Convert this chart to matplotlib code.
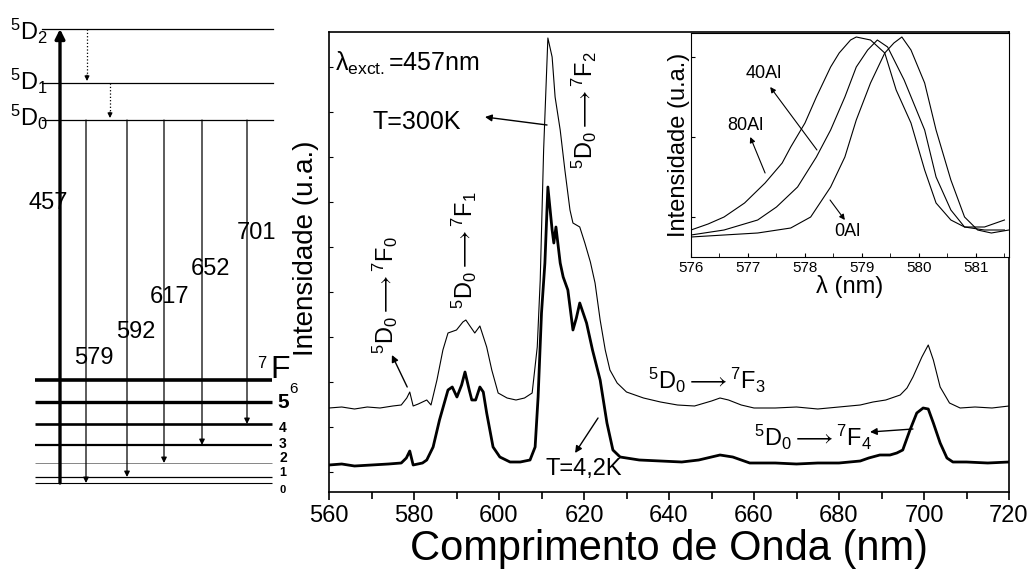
import matplotlib
matplotlib.use('Agg')
import matplotlib.pyplot as plt
from matplotlib.ticker import MultipleLocator

plt.rcParams['font.family'] = ['Liberation Sans', 'DejaVu Sans']
plt.rcParams['mathtext.fontset'] = 'custom'
plt.rcParams['mathtext.rm'] = 'Liberation Sans'
plt.rcParams['mathtext.it'] = 'Liberation Sans:italic'
plt.rcParams['mathtext.bf'] = 'Liberation Sans:bold'

# ---------------- data: emission spectra (main panel) ----------------
wl_300K = [560, 563, 566, 569, 572, 575, 577, 578.3, 579, 579.8, 581, 583, 584, 585.4, 586.8,
           588, 590, 591.5, 592.2, 593, 594.3, 595.5, 597.1, 598.3, 599.8, 601.9, 604, 606,
           607.8, 609, 609.7, 610.5, 611.5, 612.5, 613.2, 614.4, 615.5, 616.7, 617.4, 619,
           620.2, 621.5, 622.6, 623.8, 625, 626.1, 627.8, 630, 634, 638, 642, 646, 650, 652,
           654, 657, 660, 665, 670, 675, 680, 685, 688, 691, 694.4, 696, 697.4, 699.5, 701,
           702.2, 703.8, 706, 708.5, 712, 716, 720]
I_300K = [84, 85, 83, 85, 84, 86, 87, 94, 100, 86, 88, 92, 87, 112, 142,
          159, 162, 170, 172, 167, 159, 166, 145, 122, 99, 94, 92, 94,
          99, 145, 212, 342, 454, 435, 395, 362, 322, 282, 269, 265,
          249, 230, 209, 172, 142, 122, 109, 100, 94, 90, 87, 86, 91, 94,
          92, 87, 84, 84, 85, 83, 85, 87, 90, 92, 97, 104, 115, 135, 147,
          132, 105, 89, 84, 85, 84, 86]

wl_4K = [560, 563, 566, 570, 574, 577, 578.2, 579, 579.8, 582, 583, 584.5, 586, 588, 589,
         590.1, 591.2, 592, 593, 593.6, 594.5, 595.5, 596.3, 597.1, 598.6, 600.2, 602.6, 605,
         607.3, 608.5, 609.2, 610, 610.8, 611.5, 612.5, 612.9, 613.4, 614.4, 615.1, 616.2,
         617.4, 618.2, 619, 620.6, 622, 623.8, 625.4, 626.8, 628.5, 633, 638, 643, 647, 649,
         652, 655, 659, 665, 670, 675, 680, 685, 687, 689.6, 692, 693.6, 695, 696.7, 698.3,
         699.8, 701, 702.2, 703.8, 705.4, 706.8, 710, 715, 720]
I_4K = [27, 28, 26, 27, 28, 29, 34, 41, 27, 29, 32, 45, 72, 102, 105,
        95, 107, 120, 102, 92, 92, 105, 100, 79, 45, 35, 30, 30,
        32, 45, 95, 179, 229, 305, 262, 249, 265, 229, 215, 202,
        162, 174, 189, 169, 142, 112, 69, 42, 35, 32, 31, 30, 32, 34,
        37, 35, 29, 29, 28, 29, 29, 31, 34, 37, 37, 39, 42, 62, 79,
        84, 83, 69, 49, 34, 30, 30, 29, 30]

# ---------------- data: inset (5D0 -> 7F0 line) ----------------
wl_80Al = [576, 576.3, 576.58, 576.94, 577.3, 577.6, 577.75, 578, 578.2, 578.45, 578.6, 578.8,
           578.9, 579.15, 579.4, 579.6, 579.86, 580.1, 580.3, 580.56, 580.8, 581.15, 581.5]
I_80Al = [27, 33, 40, 54, 74, 94, 110, 134, 160, 190, 204, 217, 220, 217, 204, 167, 134, 87,
          54, 37, 30, 30, 37]
wl_40Al = [576, 576.58, 577.17, 577.5, 577.87, 578.2, 578.45, 578.7, 578.9, 579.1, 579.27,
           579.45, 579.74, 580.1, 580.3, 580.56, 580.8, 581.15, 581.5]
I_40Al = [22, 27, 37, 50, 70, 100, 127, 160, 190, 207, 217, 210, 177, 127, 80, 47, 30, 27, 27]
wl_0Al = [576, 576.58, 577.17, 577.75, 578.1, 578.45, 578.7, 578.9, 579.15, 579.4, 579.56,
          579.7, 579.86, 580.1, 580.3, 580.56, 580.8, 581.03, 581.27, 581.58]
I_0Al = [20, 22, 24, 29, 40, 70, 100, 137, 174, 204, 214, 220, 207, 174, 127, 77, 40, 27, 24, 27]

main_xticks = [560, 580, 600, 620, 640, 660, 680, 700, 720]
inset_xticks = [576, 577, 578, 579, 580, 581]

# ---------------- data: energy level diagram (schematic, pixel units) ----------------
F_level_y = [483, 477, 463, 445, 424, 402, 380]       # 7F0 ... 7F6
F_level_lw = [0.8, 0.9, 0.6, 1.6, 1.9, 2.4, 2.6]
F_level_col = ['k', 'k', '0.45', 'k', 'k', 'k', 'k']
D_level_y = [120, 83, 29]                              # 5D0, 5D1, 5D2
emis_wl = ['579', '592', '617', '652', '701']
emis_x = [86, 127, 164, 202, 247]
emis_target = [0, 1, 2, 3, 4]                          # final 7FJ level

W, H = 1034, 572
fig = plt.figure(figsize=(W / 100, H / 100), dpi=100)

# ---- diagram overlay axes in pixel coordinates ----
dg = fig.add_axes([0, 0, 1, 1])
dg.set_xlim(0, W)
dg.set_ylim(H, 0)
dg.axis('off')

for y, lw, c in zip(F_level_y, F_level_lw, F_level_col):
    dg.plot([35, 272], [y, y], color=c, lw=lw, solid_capstyle='butt')
for y in D_level_y:
    dg.plot([42, 273], [y, y], color='k', lw=0.9)

# excitation arrow
dg.annotate('', xy=(60, D_level_y[2]), xytext=(60, F_level_y[0]),
            arrowprops=dict(arrowstyle='-|>', lw=2.4, color='k', mutation_scale=14,
                            shrinkA=0, shrinkB=0))
# emission arrows
for x, t in zip(emis_x, emis_target):
    dg.annotate('', xy=(x, F_level_y[t]), xytext=(x, D_level_y[0]),
                arrowprops=dict(arrowstyle='-|>', lw=0.9, color='k', mutation_scale=8,
                                shrinkA=0, shrinkB=0))
# non-radiative (dotted) relaxations
for x, y0, y1 in [(87, D_level_y[2], D_level_y[1]), (110, D_level_y[1], D_level_y[0])]:
    dg.plot([x, x], [y0, y1 - 6], color='k', lw=0.9, ls=':')
    dg.annotate('', xy=(x, y1 - 2), xytext=(x, y1 - 8),
                arrowprops=dict(arrowstyle='-|>', lw=0.8, color='k', mutation_scale=7,
                                shrinkA=0, shrinkB=0))

# level labels
dg.text(10, 31, r'$^5$D$_2$', fontsize=17, ha='left', va='center')
dg.text(10, 81, r'$^5$D$_1$', fontsize=17, ha='left', va='center')
dg.text(10, 117, r'$^5$D$_0$', fontsize=17, ha='left', va='center')
dg.text(48, 203, '457', fontsize=17, ha='center', va='center')
for s, (x, y) in zip(emis_wl, [(94, 358), (136, 332), (170, 297), (210, 269), (257, 233)]):
    dg.text(x, y, s, fontsize=17, ha='center', va='center')
dg.text(262, 363, '7', fontsize=12, ha='center', va='center')
dg.text(280, 370, 'F', fontsize=23, ha='center', va='center')
dg.text(294, 389, '6', fontsize=11, ha='center', va='center')
for s, y, fs in [('5', 403, 15), ('4', 428, 10), ('3', 444, 10), ('2', 458, 10),
                 ('1', 473, 9), ('0', 490, 8)]:
    dg.text(283, y, s, fontsize=fs, ha='center', va='center', fontweight='bold')

# ---- main spectrum axes ----
ax = fig.add_axes([329 / W, (H - 492) / H, 680 / W, 460 / H])
ax.plot(wl_300K, I_300K, color='k', lw=0.8)
ax.plot(wl_4K, I_4K, color='k', lw=2.0)
ax.set_xlim(560, 720)
ax.set_ylim(0, 460)
ax.set_xticks(main_xticks)
ax.xaxis.set_minor_locator(MultipleLocator(10))
ax.tick_params(axis='x', which='major', direction='out', length=6, width=1.2, labelsize=17, pad=3)
ax.tick_params(axis='x', which='minor', direction='out', length=5, width=1.2)
ax.set_yticks([20, 65, 110, 155, 200, 245, 290, 335, 380, 425])
ax.tick_params(axis='y', direction='in', length=3, labelleft=False)
for sp in ax.spines.values():
    sp.set_linewidth(1.2)
ax.set_xlabel('Comprimento de Onda (nm)', fontsize=30, labelpad=2)
ax.set_ylabel('Intensidade (u.a.)', fontsize=20)
ax.yaxis.set_label_coords(-0.014, 0.53)

ax.text(561.4, 429, r'λ$_{\mathregular{exct.}}$=457nm', fontsize=18, ha='left', va='center')
ax.text(580.7, 370, 'T=300K', fontsize=18, ha='center', va='center')
ax.annotate('', xy=(596.7, 375), xytext=(611.3, 367),
            arrowprops=dict(arrowstyle='-|>', lw=1.0, color='k', mutation_scale=10,
                            shrinkA=0, shrinkB=0))
trans = r'$^5$D$_0$$\longrightarrow$$^7$F$_{%s}$'
ax.text(620.2, 382, trans % '2', fontsize=17, rotation=90, ha='center', va='center')
ax.text(591.8, 242, trans % '1', fontsize=17, rotation=90, ha='center', va='center')
ax.text(573.2, 197, trans % '0', fontsize=17, rotation=90, ha='center', va='center')
ax.annotate('', xy=(574.8, 137), xytext=(578.4, 105),
            arrowprops=dict(arrowstyle='-|>', lw=1.0, color='k', mutation_scale=10,
                            shrinkA=0, shrinkB=0))
ax.text(620, 23, 'T=4,2K', fontsize=17, ha='center', va='center')
ax.annotate('', xy=(617.9, 39), xytext=(623.3, 74),
            arrowprops=dict(arrowstyle='-|>', lw=1.0, color='k', mutation_scale=10,
                            shrinkA=0, shrinkB=0))
ax.text(648.9, 112, trans % '3', fontsize=17, ha='center', va='center')
ax.text(673.9, 55, trans % '4', fontsize=17, ha='center', va='center')
ax.annotate('', xy=(687.3, 60), xytext=(697.4, 63),
            arrowprops=dict(arrowstyle='-|>', lw=1.0, color='k', mutation_scale=10,
                            shrinkA=0, shrinkB=0))

# ---- inset ----
axi = fig.add_axes([691 / W, (H - 257) / H, 318 / W, 224 / H])
axi.plot(wl_80Al, I_80Al, color='k', lw=0.8)
axi.plot(wl_40Al, I_40Al, color='k', lw=0.8)
axi.plot(wl_0Al, I_0Al, color='k', lw=0.8)
axi.set_xlim(576, 581.58)
axi.set_ylim(0, 224)
axi.set_xticks(inset_xticks)
axi.xaxis.set_minor_locator(MultipleLocator(0.5))
axi.tick_params(axis='x', which='both', direction='in', length=3, labelsize=11, pad=3)
axi.set_yticks([40, 120, 200])
axi.tick_params(axis='y', direction='in', length=3, labelleft=False)
axi.set_xlabel('λ (nm)', fontsize=17, labelpad=0)
axi.set_ylabel('Intensidade (u.a.)', fontsize=17, labelpad=1)
axi.text(577.28, 183, '40Al', fontsize=13, ha='center', va='center')
axi.annotate('', xy=(577.39, 170), xytext=(578.21, 107),
             arrowprops=dict(arrowstyle='-|>', lw=0.8, color='k', mutation_scale=8,
                             shrinkA=0, shrinkB=0))
axi.text(576.96, 131, '80Al', fontsize=13, ha='center', va='center')
axi.annotate('', xy=(577.04, 120), xytext=(577.30, 84),
             arrowprops=dict(arrowstyle='-|>', lw=0.8, color='k', mutation_scale=8,
                             shrinkA=0, shrinkB=0))
axi.text(578.75, 26, '0Al', fontsize=13, ha='center', va='center')
axi.annotate('', xy=(578.70, 37), xytext=(578.44, 57),
             arrowprops=dict(arrowstyle='-|>', lw=0.8, color='k', mutation_scale=8,
                             shrinkA=0, shrinkB=0))

fig.savefig('out.png', dpi=100)
